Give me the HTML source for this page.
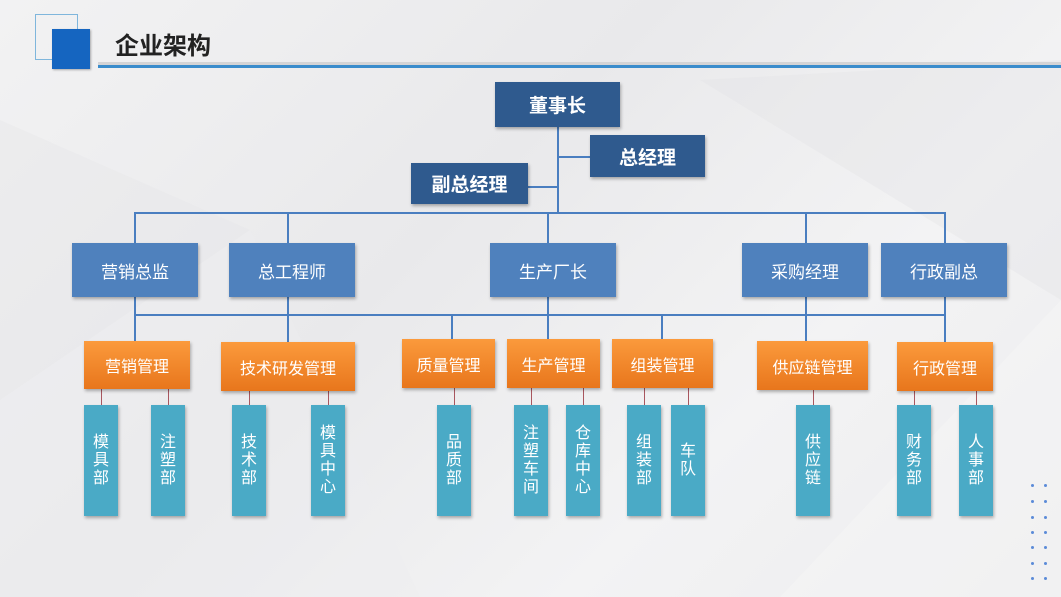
<!DOCTYPE html>
<html><head><meta charset="utf-8"><style>
body{margin:0;width:1061px;height:597px;overflow:hidden;background:linear-gradient(135deg,#f2f2f3 0%,#e9e9eb 40%,#f3f3f4 70%,#ececee 100%);position:relative;font-family:"Liberation Sans","Noto Sans CJK SC",sans-serif}
.a{position:absolute}
.b{position:absolute;display:flex;align-items:center;justify-content:center;color:#fff;box-shadow:1px 2px 3px rgba(0,0,0,.3);text-align:center}
.d{background:#2f5a8e;font-weight:bold;font-size:19px}
.m{background:#4f81bd;font-size:17px}
.o{background:linear-gradient(#fb9a3c,#e8761c);font-size:16px}
.t{background:#4aaac6;font-size:16px;line-height:18px}
.h{position:absolute;background:#4a7ec0;height:2px}
.v{position:absolute;background:#4a7ec0;width:2px}
.r{position:absolute;background:#a9575f;width:1px}
.dot{position:absolute;width:3px;height:3px;border-radius:50%;background:#5b8bd8}
</style></head><body>
<svg class="a" style="left:0;top:0" width="1061" height="597">
<polygon points="0,120 250,230 0,400" fill="#e6e6e8" opacity=".45"/>
<polygon points="250,230 420,597 0,597 0,400" fill="#ededef" opacity=".45"/>
<polygon points="700,80 1061,60 1061,300" fill="#e4e4e6" opacity=".4"/>
<polygon points="780,597 1061,300 1061,597" fill="#f5f5f6" opacity=".5"/>
</svg>
<div class="a" style="left:35px;top:14px;width:41px;height:44px;border:1px solid #7fb6dc"></div>
<div class="a" style="left:52px;top:29px;width:38px;height:40px;background:#1565c0;box-shadow:1px 1px 2px rgba(0,0,0,.3)"></div>
<div class="a" style="left:115px;top:26px;font-size:24px;font-weight:bold;color:#222">企业架构</div>
<div class="a" style="left:98px;top:62px;width:963px;height:3px;background:#d4d4d6"></div>
<div class="a" style="left:98px;top:65px;width:963px;height:3px;background:#3a8ccc"></div>

<div class="v" style="left:557px;top:127px;height:87px"></div>
<div class="h" style="left:558px;top:156px;width:32px"></div>
<div class="h" style="left:528px;top:186px;width:30px"></div>
<div class="h" style="left:134px;top:212px;width:812px"></div>
<div class="v" style="left:134px;top:212px;height:31px"></div>
<div class="v" style="left:287px;top:212px;height:31px"></div>
<div class="v" style="left:547px;top:212px;height:31px"></div>
<div class="v" style="left:805px;top:212px;height:31px"></div>
<div class="v" style="left:944px;top:212px;height:31px"></div>
<div class="h" style="left:134px;top:314px;width:812px"></div>
<div class="v" style="left:134px;top:297px;height:45px"></div>
<div class="v" style="left:287px;top:297px;height:45px"></div>
<div class="v" style="left:547px;top:297px;height:42px"></div>
<div class="v" style="left:805px;top:297px;height:44px"></div>
<div class="v" style="left:944px;top:297px;height:45px"></div>
<div class="v" style="left:451px;top:314px;height:25px"></div>
<div class="v" style="left:661px;top:314px;height:25px"></div>

<div class="r" style="left:101px;top:389px;height:16px"></div>
<div class="r" style="left:168px;top:389px;height:16px"></div>
<div class="r" style="left:249px;top:391px;height:14px"></div>
<div class="r" style="left:328px;top:391px;height:14px"></div>
<div class="r" style="left:454px;top:388px;height:17px"></div>
<div class="r" style="left:531px;top:388px;height:17px"></div>
<div class="r" style="left:583px;top:388px;height:17px"></div>
<div class="r" style="left:644px;top:388px;height:17px"></div>
<div class="r" style="left:688px;top:388px;height:17px"></div>
<div class="r" style="left:813px;top:390px;height:15px"></div>
<div class="r" style="left:914px;top:391px;height:14px"></div>
<div class="r" style="left:976px;top:391px;height:14px"></div>

<div class="b d" style="left:495px;top:82px;width:125px;height:45px">董事长</div>
<div class="b d" style="left:590px;top:135px;width:115px;height:42px">总经理</div>
<div class="b d" style="left:411px;top:163px;width:117px;height:41px">副总经理</div>

<div class="b m" style="left:72px;top:243px;width:126px;height:54px">营销总监</div>
<div class="b m" style="left:229px;top:243px;width:126px;height:54px">总工程师</div>
<div class="b m" style="left:490px;top:243px;width:126px;height:54px">生产厂长</div>
<div class="b m" style="left:742px;top:243px;width:126px;height:54px">采购经理</div>
<div class="b m" style="left:881px;top:243px;width:126px;height:54px">行政副总</div>

<div class="b o" style="left:84px;top:341px;width:106px;height:48px">营销管理</div>
<div class="b o" style="left:221px;top:342px;width:134px;height:49px">技术研发管理</div>
<div class="b o" style="left:402px;top:339px;width:93px;height:49px">质量管理</div>
<div class="b o" style="left:507px;top:339px;width:93px;height:49px">生产管理</div>
<div class="b o" style="left:612px;top:339px;width:101px;height:49px">组装管理</div>
<div class="b o" style="left:757px;top:341px;width:111px;height:49px">供应链管理</div>
<div class="b o" style="left:897px;top:342px;width:96px;height:49px">行政管理</div>

<div class="b t" style="left:84px;top:405px;width:34px;height:111px">模<br>具<br>部</div>
<div class="b t" style="left:151px;top:405px;width:34px;height:111px">注<br>塑<br>部</div>
<div class="b t" style="left:232px;top:405px;width:34px;height:111px">技<br>术<br>部</div>
<div class="b t" style="left:311px;top:405px;width:34px;height:111px">模<br>具<br>中<br>心</div>
<div class="b t" style="left:437px;top:405px;width:34px;height:111px">品<br>质<br>部</div>
<div class="b t" style="left:514px;top:405px;width:34px;height:111px">注<br>塑<br>车<br>间</div>
<div class="b t" style="left:566px;top:405px;width:34px;height:111px">仓<br>库<br>中<br>心</div>
<div class="b t" style="left:627px;top:405px;width:34px;height:111px">组<br>装<br>部</div>
<div class="b t" style="left:671px;top:405px;width:34px;height:111px">车<br>队</div>
<div class="b t" style="left:796px;top:405px;width:34px;height:111px">供<br>应<br>链</div>
<div class="b t" style="left:897px;top:405px;width:34px;height:111px">财<br>务<br>部</div>
<div class="b t" style="left:959px;top:405px;width:34px;height:111px">人<br>事<br>部</div>

<div class="dot" style="left:1031px;top:484px"></div><div class="dot" style="left:1044px;top:484px"></div>
<div class="dot" style="left:1031px;top:500px"></div><div class="dot" style="left:1044px;top:500px"></div>
<div class="dot" style="left:1031px;top:516px"></div><div class="dot" style="left:1044px;top:516px"></div>
<div class="dot" style="left:1031px;top:531px"></div><div class="dot" style="left:1044px;top:531px"></div>
<div class="dot" style="left:1031px;top:546px"></div><div class="dot" style="left:1044px;top:546px"></div>
<div class="dot" style="left:1031px;top:562px"></div><div class="dot" style="left:1044px;top:562px"></div>
<div class="dot" style="left:1031px;top:577px"></div><div class="dot" style="left:1044px;top:577px"></div>
</body></html>
